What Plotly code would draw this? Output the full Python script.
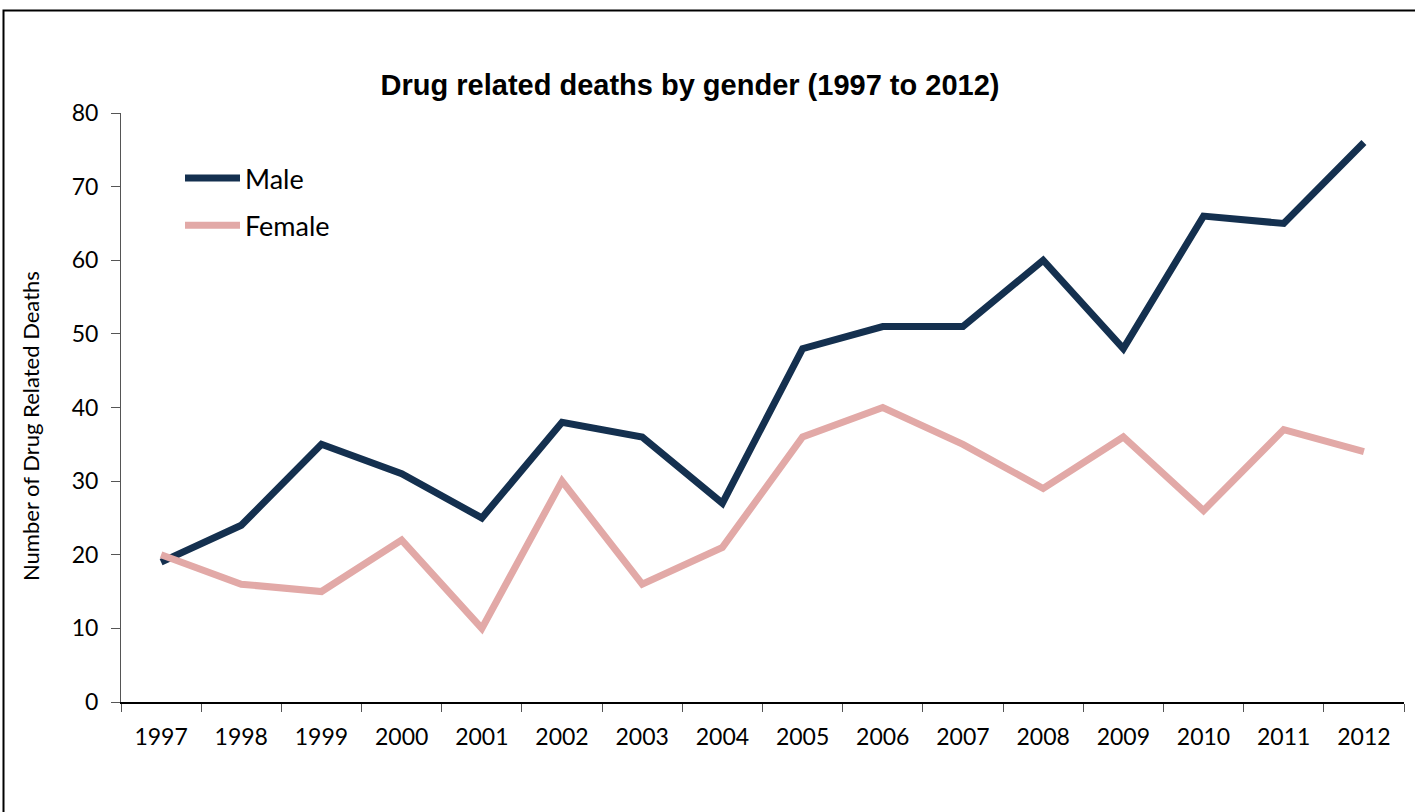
import plotly.graph_objects as go

years = [str(y) for y in range(1997, 2013)]
male = [19, 24, 35, 31, 25, 38, 36, 27, 48, 51, 51, 60, 48, 66, 65, 76]
female = [20, 16, 15, 22, 10, 30, 16, 21, 36, 40, 35, 29, 36, 26, 37, 34]
y_ticks = [0, 10, 20, 30, 40, 50, 60, 70, 80]

W, H = 1415, 812
L, R, T, B = 121, 11, 113, 110
pw, ph = W - L - R, H - T - B

fig = go.Figure()
fig.add_trace(go.Scatter(x=years, y=male, name="Male", mode="lines", legendgroup="m",
                         line=dict(color="#14304F", width=7)))
fig.add_trace(go.Scatter(x=years, y=female, name="Female", mode="lines", legendgroup="f",
                         line=dict(color="#E2A9A7", width=7)))

fig.update_layout(
    width=W, height=H,
    margin=dict(l=L, r=R, t=T, b=B),
    paper_bgcolor="white", plot_bgcolor="white",
    font=dict(family="Lato, Open Sans, sans-serif", size=22, color="black"),
    title=dict(text="<b>Drug related deaths by gender (1997 to 2012)</b>",
               font=dict(family="Liberation Sans, Arial, sans-serif", size=29, color="black"),
               x=(690 - L) / pw, xref="paper", xanchor="center",
               y=1 - 85 / H, yanchor="middle"),
    xaxis=dict(type="category", range=[-0.5, 15.5], tickson="boundaries",
               ticks="outside", ticklen=8, tickcolor="#555", showline=True,
               linecolor="black", linewidth=1.5, showgrid=False,
               tickfont=dict(size=23), ticklabelstandoff=14, zeroline=False),
    yaxis=dict(range=[0, 80], tickvals=y_ticks, ticks="outside", ticklen=9,
               tickcolor="#555", showline=True, linecolor="#555", linewidth=1,
               showgrid=False, zeroline=False, tickfont=dict(size=23),
               ticklabelstandoff=8),
    legend=dict(x=(180 - L) / pw, y=1 - (154 - T) / ph, xanchor="left", yanchor="top",
                bgcolor="rgba(0,0,0,0)", font=dict(size=27), tracegroupgap=9,
                itemwidth=55),
    showlegend=True,
    annotations=[dict(text="Number of Drug Related Deaths", textangle=-90,
                      xref="paper", yref="paper",
                      x=(30 - L) / pw, y=(H - B - 426) / ph,
                      xanchor="center", yanchor="middle", showarrow=False,
                      font=dict(size=22, color="black"))],
    shapes=[dict(type="rect", xref="paper", yref="paper",
                 x0=(3.5 - L) / pw, x1=1.2, y0=-0.5, y1=1 + (T - 10.5) / ph,
                 line=dict(color="black", width=2), layer="above")],
)

fig.write_html("out.html")
